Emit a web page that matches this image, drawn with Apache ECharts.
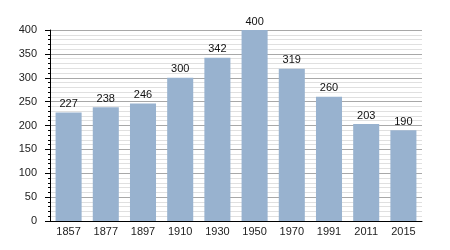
<!DOCTYPE html>
<html><head><meta charset="utf-8">
<script src="https://cdn.jsdelivr.net/npm/echarts@6/dist/echarts.min.js"></script>
<style>html,body{margin:0;padding:0;background:#fff}#c{width:450px;height:250px}</style>
</head><body><div id="c"></div>
<script>
const categories = ["1857","1877","1897","1910","1930","1950","1970","1991","2011","2015"];
const values = [227,238,246,300,342,400,319,260,203,190];
const chart = echarts.init(document.getElementById('c'), null, {renderer:'canvas'});
chart.setOption({
  animation:false,
  grid:{left:50,right:28,top:30,bottom:29},
  xAxis:{type:'category',data:categories,
    axisLine:{lineStyle:{color:'#000',width:1}},
    axisTick:{show:false},
    axisLabel:{color:'#222',fontSize:11,fontFamily:'Liberation Sans, Arial',margin:5}},
  yAxis:{type:'value',min:0,max:400,interval:50,
    axisLine:{show:true,lineStyle:{color:'#000'}},
    axisTick:{show:true,length:5,lineStyle:{color:'#000'}},
    minorTick:{show:true,splitNumber:5,length:2,lineStyle:{color:'#000'}},
    splitLine:{lineStyle:{color:'#a8a8a8'}},
    minorSplitLine:{show:true,lineStyle:{color:'#e0e0e0'}},
    axisLabel:{color:'#222',fontSize:11,fontFamily:'Liberation Sans, Arial',margin:13}},
  series:[{type:'bar',data:values,barCategoryGap:'30%',
    itemStyle:{color:'#98b2cf'},
    label:{show:true,position:'top',color:'#111',fontSize:11,fontFamily:'Liberation Sans, Arial',distance:3}}]
});
</script></body></html>
